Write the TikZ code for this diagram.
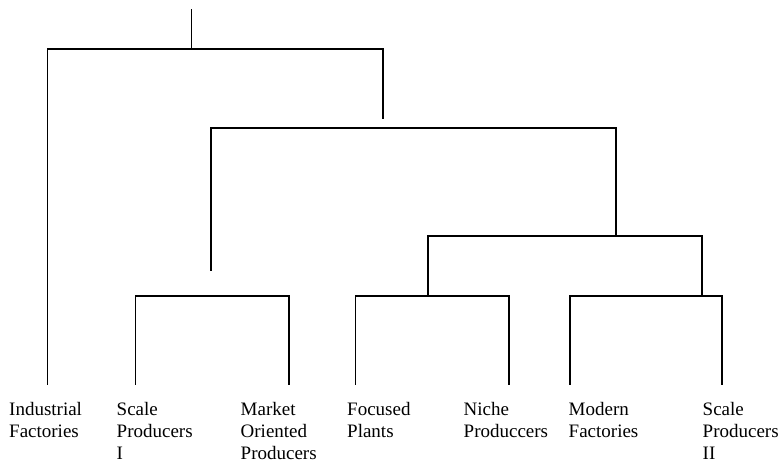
\documentclass[tikz,border=0pt]{standalone}
\usepackage{fontspec}
\setmainfont{Liberation Serif}
\begin{document}
\begin{tikzpicture}[x=1pt,y=-1pt,
  branch/.style={draw=black,line width=1.1pt,line cap=rect},
  leaf/.style={anchor=base west,inner sep=0pt,font=\fontsize{19}{22}\selectfont}]
\useasboundingbox (0,0) rectangle (782,464);
% junction coordinates
\coordinate (root) at (191.5,10);
\coordinate (a) at (191.5,49);
\coordinate (aL) at (47.5,49);
\coordinate (aR) at (383,49);
\coordinate (aRe) at (383,118);
\coordinate (bL) at (211,128);
\coordinate (bR) at (616,128);
\coordinate (bLe) at (211,270);
\coordinate (bRe) at (616,236);
\coordinate (cL) at (428,236);
\coordinate (cR) at (702,236);
\coordinate (cLe) at (428,294);
\coordinate (cRe) at (702,296);
\coordinate (d1L) at (135.5,296);
\coordinate (d1R) at (289,296);
\coordinate (d2L) at (355.5,296);
\coordinate (d2R) at (509,296);
\coordinate (d3L) at (570,296);
\coordinate (d3R) at (722,296);
% leaf ends
\coordinate (l1) at (47.5,384);
\coordinate (l2) at (135.5,384);
\coordinate (l3) at (289,384);
\coordinate (l4) at (355.5,384);
\coordinate (l5) at (509,384);
\coordinate (l6) at (570,384);
\coordinate (l7) at (722,384);
% tree
\draw[branch] (root) -- (a);
\draw[branch] (l1) -- (aL) -- (aR) -- (aRe);
\draw[branch] (bLe) -- (bL) -- (bR) -- (bRe);
\draw[branch] (cLe) -- (cL) -- (cR) -- (cRe);
\draw[branch] (l2) -- (d1L) -- (d1R) -- (l3);
\draw[branch] (l4) -- (d2L) -- (d2R) -- (l5);
\draw[branch] (l6) -- (d3L) -- (d3R) -- (l7);
% labels
\node[leaf] (t1) at (9,415.5) {\begin{tabular}[t]{@{}l@{}}Industrial\\Factories\end{tabular}};
\node[leaf] (t2) at (116.5,415.5) {\begin{tabular}[t]{@{}l@{}}Scale\\Producers\\I\end{tabular}};
\node[leaf] (t3) at (240.5,415.5) {\begin{tabular}[t]{@{}l@{}}Market\\Oriented\\Producers\end{tabular}};
\node[leaf] (t4) at (347,415.5) {\begin{tabular}[t]{@{}l@{}}Focused\\Plants\end{tabular}};
\node[leaf] (t5) at (463.5,415.5) {\begin{tabular}[t]{@{}l@{}}Niche\\Produccers\end{tabular}};
\node[leaf] (t6) at (568.5,415.5) {\begin{tabular}[t]{@{}l@{}}Modern\\Factories\end{tabular}};
\node[leaf] (t7) at (702.5,415.5) {\begin{tabular}[t]{@{}l@{}}Scale\\Producers\\II\end{tabular}};
\end{tikzpicture}
\end{document}
